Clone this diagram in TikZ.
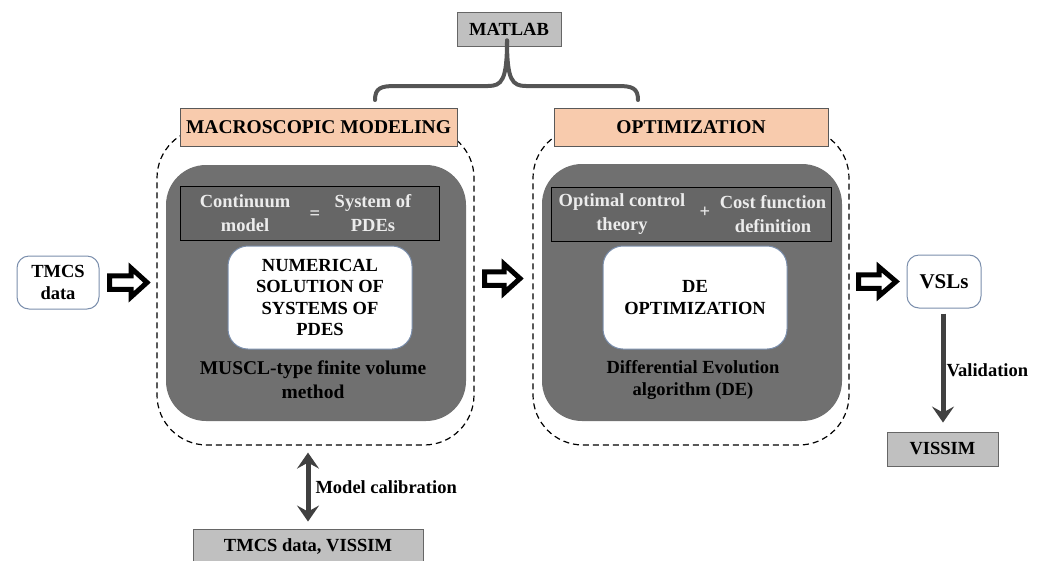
\documentclass[tikz,border=0pt]{standalone}
\usepackage{fontspec}
\setmainfont{Liberation Serif}
\usetikzlibrary{arrows.meta,calc}
\definecolor{darkbox}{RGB}{112,112,112}
\definecolor{stripc}{RGB}{102,102,102}
\definecolor{peach}{RGB}{248,203,173}
\definecolor{lightgr}{RGB}{192,192,192}
\definecolor{bluegr}{RGB}{122,142,172}
\definecolor{arrowgr}{RGB}{64,64,64}
\definecolor{striptext}{RGB}{236,236,236}
\definecolor{bracec}{RGB}{85,85,85}
\newcommand\blkarrow[4]{% x1, xh, x2, y
  \draw[line width=5, line join=miter, miter limit=4, fill=white, draw=black]
    (#1+2.5,#4-6.75) -- (#2,#4-6.75) -- (#2,#4-14.5) -- (#3-5,#4) -- (#2,#4+14.5) -- (#2,#4+6.75) -- (#1+2.5,#4+6.75) -- cycle;}
\begin{document}
\begin{tikzpicture}[x=1pt,y=-1pt,
  font=\fontsize{18.5}{21.5}\selectfont\bfseries,
  graybox/.style={draw=black!60, fill=lightgr, line width=0.9, inner sep=0},
  hdr/.style={draw=black!65, fill=peach, line width=0.9, inner sep=0, font=\fontsize{19.5}{22}\selectfont\bfseries},
  container/.style={draw=black, dash pattern=on 6pt off 4pt, rounded corners=50, line width=1.2, inner sep=0},
  darkpanel/.style={fill=darkbox, rounded corners=40, draw=none, inner sep=0},
  strip/.style={draw=black, fill=stripc, line width=0.9, inner sep=0},
  striptxt/.style={text=striptext, align=center, inner sep=0, font=\fontsize{18.5}{24.5}\selectfont\bfseries},
  whitebox/.style={draw=bluegr, fill=white, rounded corners=20, line width=1, align=center, inner sep=0},
  smallbox/.style={draw=bluegr, fill=white, rounded corners=12, line width=1, align=center, inner sep=0},
  plaintxt/.style={align=center, inner sep=0},
  thinarrow/.style={draw=arrowgr, line width=5, -{Stealth[length=16, width=22, inset=6]}},
  dblarrow/.style={draw=arrowgr, line width=5, {Stealth[length=16, width=22, inset=6]}-{Stealth[length=16, width=22, inset=6]}},
  braceline/.style={draw=bracec, line width=4, line cap=round}
]
\useasboundingbox (0,0) rectangle (1046,560);
\clip (0,0) rectangle (1046,560);

% top MATLAB + brace
\node[graybox, minimum width=104, minimum height=34] (matlab) at (509,29) {MATLAB};
\coordinate (bracetip) at ($(matlab.south)+(-2,-6)$);
\coordinate (braceL) at (375,100);
\coordinate (braceR) at (638,100);
\draw[braceline] (braceL) .. controls (375,88) and (381,86) .. (395,86) -- (488,86)
   .. controls (502,86) and (507,80) .. (bracetip);
\draw[braceline] (braceR) .. controls (638,88) and (632,86) .. (618,86) -- (526,86)
   .. controls (512,86) and (507,80) .. (bracetip);

% containers
\node[container, minimum width=317, minimum height=317] (contL) at (315.5,286.5) {};
\node[container, minimum width=316, minimum height=317] (contR) at (691,286.5) {};

% headers
\node[hdr, minimum width=277, minimum height=38] (hdrL) at (318.5,127) {MACROSCOPIC MODELING};
\node[hdr, minimum width=274, minimum height=38] (hdrR) at (691,127) {OPTIMIZATION};

% dark panels
\node[darkpanel, minimum width=300, minimum height=256] (darkL) at (316,293) {};
\node[darkpanel, minimum width=300, minimum height=257] (darkR) at (692,292.5) {};

% strips
\node[strip, minimum width=259, minimum height=54] (stripL) at (309.5,213) {};
\node[striptxt] (contm) at (245,213) {Continuum\\model};
\node[striptxt] (eqs) at (315,215) {=};
\node[striptxt] (syspde) at (373,213) {System of\\PDEs};

\node[strip, minimum width=280, minimum height=54] (stripR) at (691,214) {};
\node[striptxt] (optc) at (622,214) {Optimal control\\theory};
\node[striptxt] (plus) at (705,212) {+};
\node[striptxt] (costf) at (773,214) {Cost function\\definition};

% white boxes
\node[whitebox, minimum width=184, minimum height=103] (numsol) at (320,297.5) {NUMERICAL\\SOLUTION OF\\SYSTEMS OF\\PDES};
\node[whitebox, minimum width=184, minimum height=103] (deopt) at (695,297.5) {DE\\OPTIMIZATION};

% panel captions
\node[plaintxt, font=\fontsize{19.5}{24}\selectfont\bfseries] (muscl) at (313,380) {MUSCL-type finite volume\\method};
\node[plaintxt] (diffev) at (693,380) {Differential Evolution\\algorithm (DE)};

% side boxes
\node[smallbox, minimum width=82, minimum height=53] (tmcs) at (58,282.5) {TMCS\\data};
\node[smallbox, minimum width=74, minimum height=53, font=\fontsize{21}{24}\selectfont\bfseries] (vsls) at (944,281.5) {VSLs};
\node[graybox, minimum width=111, minimum height=34] (vissim) at (942.5,449) {VISSIM};
\node[graybox, minimum width=230, minimum height=36] (tmcsvis) at (308,547) {TMCS data, VISSIM};

% block arrows
\blkarrow{107}{131}{152}{282.5}
\blkarrow{482}{504}{525}{278.5}
\blkarrow{856}{879}{901}{281.5}

% thin arrows
\draw[thinarrow, shorten <=5, shorten >=9] (vsls.south -| 943,0) -- (vissim.north -| 943,0)
  node[midway, right=1pt, plaintxt] (valid) {Validation};
\draw[dblarrow, shorten <=7, shorten >=7] (contL.south -| 308,0) -- (tmcsvis.north -| 308,0)
  node[midway, right=5pt, plaintxt] (calib) {Model calibration};
\end{tikzpicture}
\end{document}
